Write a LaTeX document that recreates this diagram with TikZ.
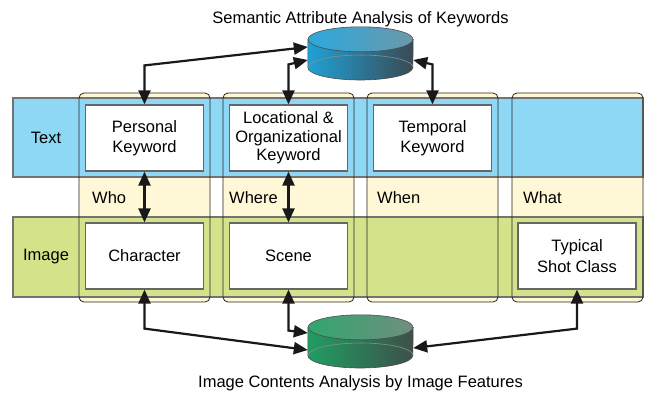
\documentclass[tikz,border=0pt]{standalone}
\usepackage{fontspec}
\setmainfont{Liberation Sans}
\usetikzlibrary{positioning, calc, arrows.meta, backgrounds}
\definecolor{textblue}{HTML}{8ED7F5}
\definecolor{imagegreen}{HTML}{D4E28A}
\definecolor{paleyellow}{HTML}{FFF8D6}
\definecolor{kwleft}{HTML}{1FA2D6}
\definecolor{kwright}{HTML}{3A4A54}
\definecolor{kwtopl}{HTML}{2BA9DC}
\definecolor{kwtopr}{HTML}{6C98AB}
\definecolor{imgleft}{HTML}{1F9E63}
\definecolor{imgright}{HTML}{3E5048}
\definecolor{imgtopl}{HTML}{31A66F}
\definecolor{imgtopr}{HTML}{6F8F7E}
\tikzset{
  link/.style={{Triangle[length=14pt, width=12pt]}-{Triangle[length=14pt, width=12pt]}, line width=2.2pt, draw=black!90},
  column/.style={draw=black!85, line width=0.8pt, rounded corners=5pt, minimum width=131pt, minimum height=209pt},
  band/.style={draw=black!55, line width=1.3pt, minimum width=630pt},
  item/.style={draw=black!60, fill=white, line width=1.2pt, minimum width=118pt, minimum height=66pt, align=center},
  disk/.style={minimum width=105pt, minimum height=53pt},
  rowlabel/.style={anchor=base west},
  every node/.style={inner sep=0, font=\fontsize{16.5}{20.5}\selectfont}
}

\begin{document}
\begin{tikzpicture}[x=1pt, y=-1pt]
    \useasboundingbox (0,0) rectangle (651,392);
    % the four question columns
    \node[column] (colwho) at (144.5,197.5) {};
    \node[column] (colwhere) at (288.5,197.5) {};
    \node[column] (colwhen) at (432.5,197.5) {};
    \node[column] (colwhat) at (577.5,197.5) {};
    \begin{scope}[on background layer]
      \foreach \c in {colwho, colwhere, colwhen, colwhat}
        \fill[paleyellow, rounded corners=5pt] (\c.north west) rectangle (\c.south east);
      \node[band, fill=textblue, minimum height=79pt] (textband) at (328,137.5) {};
      \node[band, fill=imagegreen, minimum height=80pt] (imageband) at (328,257) {};
    \end{scope}
    \node (textlabel) at (46,138) {Text};
    \node (imagelabel) at (46,256.5) {Image};
    % keyword and feature boxes
    \node[item] (pk) at (colwho |- 0,138) {Personal\\Keyword};
    \node[item, font=\fontsize{16.5}{18.7}\selectfont] (lok) at (colwhere |- 0,138) {Locational \&\\Organizational\\Keyword};
    \node[item] (tk) at (colwhen |- 0,138) {Temporal\\Keyword};
    \node[item] (chr) at (colwho |- 0,256) {Character};
    \node[item] (scn) at (colwhere |- 0,256) {Scene};
    \node[item] (shot) at (577,256) {Typical\\Shot Class};
    \node[rowlabel] (who) at (92,203.5) {Who};
    \node[rowlabel] (where) at (229,203.5) {Where};
    \node[rowlabel] (when) at (377,203.5) {When};
    \node[rowlabel] (what) at (523,203.5) {What};
    \draw[link] (pk) -- (chr);
    \draw[link] (lok) -- (scn);
    % keyword database
    \node[disk] (kwdb) at (360.5,53.5) {};
    \shade[left color=kwleft, right color=kwright, draw=black!70, line width=0.6pt]
      ($(kwdb.west)+(0,-14)$) -- ($(kwdb.west)+(0,14)$)
      arc[start angle=180, end angle=0, x radius=52.5, y radius=12.5]
      -- ($(kwdb.east)+(0,-14)$) -- cycle;
    \draw[black!45, line width=0.6pt] ($(kwdb.east)+(0,14)$) arc[start angle=0, end angle=-180, x radius=52.5, y radius=12.5];
    \shade[left color=kwtopl, right color=kwtopr, draw=black!70, line width=0.6pt] ($(kwdb.north)+(0,12.5)$) ellipse[x radius=52.5, y radius=12.5];
    \node[anchor=base] (kwtitle) at (360.5,23) {Semantic Attribute Analysis of Keywords};
    % image feature database
    \node[disk] (imgdb) at (360.5,341.5) {};
    \shade[left color=imgleft, right color=imgright, draw=black!70, line width=0.6pt]
      ($(imgdb.west)+(0,-14)$) -- ($(imgdb.west)+(0,14)$)
      arc[start angle=180, end angle=0, x radius=52.5, y radius=12.5]
      -- ($(imgdb.east)+(0,-14)$) -- cycle;
    \draw[black!45, line width=0.6pt] ($(imgdb.east)+(0,14)$) arc[start angle=0, end angle=-180, x radius=52.5, y radius=12.5];
    \shade[left color=imgtopl, right color=imgtopr, draw=black!70, line width=0.6pt] ($(imgdb.north)+(0,12.5)$) ellipse[x radius=52.5, y radius=12.5];
    \node[anchor=base] (imgtitle) at (360.5,387) {Image Contents Analysis by Image Features};
    % links to the databases
    \draw[link] (pk.north) -- ++(0,-39) -- ($(kwdb.west)+(0,-6.5)$);
    \draw[link] (lok.north) -- ++(0,-40) -- ($(kwdb.west)+(0,6.5)$);
    \draw[link] (tk.north) -- ++(0,-40) -- ($(kwdb.east)+(0,6.5)$);
    \draw[link] (chr.south) -- ++(0,39) -- ($(imgdb.west)+(0,8.5)$);
    \draw[link] (scn.south) -- ++(0,41) -- ($(imgdb.west)+(0,-8.5)$);
    \draw[link] (shot.south) -- ++(0,39) -- ($(imgdb.east)+(0,6.5)$);
\end{tikzpicture}
\end{document}
